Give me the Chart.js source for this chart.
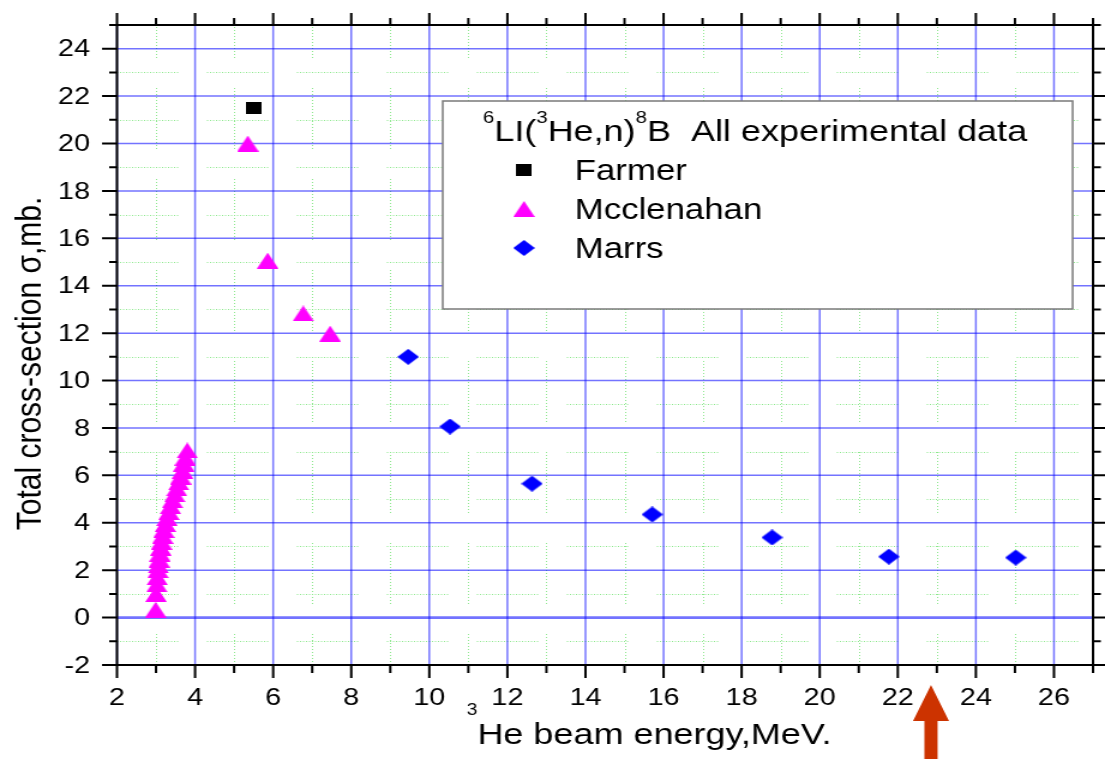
<!DOCTYPE html>
<html><head><meta charset="utf-8">
<style>
html,body{margin:0;padding:0;background:#fff;overflow:hidden}
#c{display:block;width:1105px !important;height:759px !important}
</style>
<script src="https://cdn.jsdelivr.net/npm/chart.js@4.4.0/dist/chart.umd.min.js"></script>
</head><body>
<canvas id="c" width="921" height="759" style="width:1105px;height:759px"></canvas>
<script>
// ---- data ----
const farmerX = [5.5];
const farmerY = [21.5];
const mccX = [2.99,3.00,3.02,3.03,3.05,3.06,3.08,3.10,3.12,3.14,3.17,3.20,3.24,3.28,3.33,3.37,3.42,3.48,3.53,3.58,3.63,3.68,3.71,3.75,3.80,5.35,5.86,6.77,7.46];
const mccY = [0.33,1.0,1.4,1.7,2.0,2.2,2.45,2.7,2.95,3.2,3.45,3.7,3.95,4.2,4.45,4.7,4.95,5.2,5.45,5.7,5.95,6.2,6.5,6.75,7.05,20.0,15.06,12.83,11.98];
const marrsX = [9.46,10.53,12.63,15.71,18.78,21.77,25.02];
const marrsY = [11.0,8.06,5.65,4.35,3.38,2.57,2.53];
const xTicks = [2,4,6,8,10,12,14,16,18,20,22,24,26];
const xMinor = [3,5,7,9,11,13,15,17,19,21,23,25,27];
const yTicks = [-2,0,2,4,6,8,10,12,14,16,18,20,22,24];
const yMinor = [-1,1,3,5,7,9,11,13,15,17,19,21,23,25];
const xRange = [2,27];
const yRange = [-2,25];
const arrowX = 22.85;
const seriesNames = ['Farmer','Mcclenahan','Marrs'];
const FONT = '"Liberation Sans", Arial, sans-serif';

// ---- marker images ----
function mk(w,h,color,draw){const c=document.createElement('canvas');c.width=w;c.height=h;const g=c.getContext('2d');g.fillStyle=color;g.beginPath();draw(g,w,h);g.closePath();g.fill();return c;}
const sqImg = mk(13,12,'#000',(g,w,h)=>{g.rect(0,0,w,h);});
const triImg = mk(18,16,'#ff00ff',(g,w,h)=>{g.moveTo(w/2,0);g.lineTo(w,h);g.lineTo(0,h);});
const diaImg = mk(18,16,'#0000ff',(g,w,h)=>{g.moveTo(w/2,0);g.lineTo(w,h/2);g.lineTo(w/2,h);g.lineTo(0,h/2);});

const pts = (xs,ys)=>xs.map((x,i)=>({x:x,y:ys[i]}));

function drawRich(ctx,x,y,runs){
  let cx=x;
  for(const r of runs){
    ctx.font = r.size+'px '+FONT;
    ctx.fillText(r.t,cx,y+(r.dy||0));
    cx += ctx.measureText(r.t).width;
  }
}

const decor = {
  id:'decor',
  beforeDatasetsDraw(chart){
    const {ctx, chartArea:a, scales:{x,y}} = chart;
    ctx.save();
    ctx.strokeStyle='#8ee88e'; ctx.lineWidth=1;
    const hd=[]; for(let i=0;i<21;i++){hd.push(1,1.5);} hd[hd.length-1]=24;
    ctx.setLineDash(hd); ctx.lineDashOffset=0;
    yMinor.forEach(v=>{const py=Math.round(y.getPixelForValue(v))+0.5; if(py<=a.top+1) return; ctx.beginPath();ctx.moveTo(a.left,py);ctx.lineTo(a.right,py);ctx.stroke();});
    const vd=[]; for(let i=0;i<21;i++){vd.push(1,2);} vd[vd.length-1]=30;
    ctx.setLineDash(vd); ctx.lineDashOffset=28;
    xMinor.forEach(v=>{const px=Math.round(x.getPixelForValue(v))+0.5; if(px>=a.right-1) return; ctx.beginPath();ctx.moveTo(px,a.top);ctx.lineTo(px,a.bottom);ctx.stroke();});
    ctx.setLineDash([]);
    ctx.strokeStyle='rgba(0,0,255,0.55)';
    yTicks.forEach(v=>{const py=y.getPixelForValue(v); ctx.lineWidth = (v===0)?2.8:1.5; ctx.beginPath();ctx.moveTo(a.left,py);ctx.lineTo(a.right,py);ctx.stroke();});
    ctx.lineWidth=1.5;
    xTicks.forEach(v=>{const px=x.getPixelForValue(v); ctx.beginPath();ctx.moveTo(px,a.top);ctx.lineTo(px,a.bottom);ctx.stroke();});
    ctx.restore();
  },
  afterDraw(chart){
    const {ctx, chartArea:a, scales:{x,y}} = chart;
    ctx.save();
    ctx.strokeStyle='#000'; ctx.lineWidth=2;
    ctx.strokeRect(a.left,a.top,a.right-a.left,a.bottom-a.top);
    ctx.beginPath();
    xTicks.forEach(v=>{const px=x.getPixelForValue(v); ctx.moveTo(px,a.bottom);ctx.lineTo(px,a.bottom+13); ctx.moveTo(px,a.top);ctx.lineTo(px,a.top-12);});
    xMinor.forEach(v=>{const px=x.getPixelForValue(v); ctx.moveTo(px,a.bottom);ctx.lineTo(px,a.bottom+8); ctx.moveTo(px,a.top);ctx.lineTo(px,a.top-7);});
    yTicks.forEach(v=>{const py=y.getPixelForValue(v); ctx.moveTo(a.left,py);ctx.lineTo(a.left-12.5,py); ctx.moveTo(a.right,py);ctx.lineTo(a.right+12.5,py);});
    yMinor.forEach(v=>{const py=y.getPixelForValue(v); ctx.moveTo(a.left,py);ctx.lineTo(a.left-6.5,py); ctx.moveTo(a.right,py);ctx.lineTo(a.right+6.5,py);});
    ctx.stroke();

    // tick labels
    ctx.fillStyle='#000'; ctx.font='24px '+FONT;
    ctx.textAlign='right'; ctx.textBaseline='middle';
    yTicks.forEach(v=>{ctx.fillText(String(v), a.left-22.5, y.getPixelForValue(v)+1);});
    ctx.textAlign='center';
    xTicks.forEach(v=>{ctx.fillText(String(v), x.getPixelForValue(v), 698);});

    ctx.textAlign='left'; ctx.textBaseline='alphabetic';
    drawRich(ctx,389,744,[{t:'3',size:16,dy:-29},{t:'He beam energy,MeV.',size:30}]);
    ctx.save();
    ctx.translate(34,363.5); ctx.rotate(-Math.PI/2);
    ctx.font='30px '+FONT; ctx.textAlign='center';
    ctx.fillText('Total cross-section \u03c3,mb.',0,0);
    ctx.restore();

    ctx.fillStyle='#fff'; ctx.fillRect(369,101,525,208);
    ctx.strokeStyle='#7a7a7a'; ctx.lineWidth=1.5; ctx.strokeRect(369,101,525,208);
    ctx.fillStyle='#000'; ctx.textAlign='left';
    drawRich(ctx,402.5,141,[{t:'6',size:17,dy:-18},{t:'LI(',size:30},{t:'3',size:17,dy:-18},{t:'He,n)',size:30},{t:'8',size:17,dy:-18},{t:'B  All experimental data',size:30}]);
    const imgs=[sqImg,triImg,diaImg];
    const base=[180,219,258];
    ctx.font='29px '+FONT;
    seriesNames.forEach((n,i)=>{
      const im=imgs[i];
      ctx.drawImage(im,436.7-im.width/2,base[i]-10-im.height/2);
      ctx.fillText(n,479,base[i]);
    });

    const ax=x.getPixelForValue(arrowX);
    ctx.fillStyle='#cc3300';
    ctx.beginPath();
    ctx.moveTo(ax,685); ctx.lineTo(ax+15,721); ctx.lineTo(ax+5.5,721); ctx.lineTo(ax+5.5,760);
    ctx.lineTo(ax-5.5,760); ctx.lineTo(ax-5.5,721); ctx.lineTo(ax-15,721); ctx.closePath(); ctx.fill();
    ctx.restore();
  }
};

new Chart(document.getElementById('c'), {
  type:'scatter',
  data:{datasets:[
    {label:seriesNames[0], data:pts(farmerX,farmerY), pointStyle:sqImg, pointRadius:7, backgroundColor:'#000'},
    {label:seriesNames[1], data:pts(mccX,mccY), pointStyle:triImg, pointRadius:9, backgroundColor:'#ff00ff'},
    {label:seriesNames[2], data:pts(marrsX,marrsY), pointStyle:diaImg, pointRadius:9, backgroundColor:'#0000ff'}
  ]},
  options:{
    responsive:false, animation:false, devicePixelRatio:1,
    layout:{padding:{top:25,right:2.5,left:0,bottom:0}},
    plugins:{legend:{display:false}, tooltip:{enabled:false}},
    scales:{
      x:{type:'linear', min:xRange[0], max:xRange[1],
         afterFit(s){s.height=94;},
         afterBuildTicks(s){s.ticks=xTicks.map(v=>({value:v}));},
         grid:{display:false}, border:{display:false},
         ticks:{display:false}},
      y:{type:'linear', min:yRange[0], max:yRange[1],
         afterFit(s){s.width=97.5;},
         afterBuildTicks(s){s.ticks=yTicks.map(v=>({value:v}));},
         grid:{display:false}, border:{display:false},
         ticks:{display:false}}
    }
  },
  plugins:[decor]
});
</script>
</body></html>
